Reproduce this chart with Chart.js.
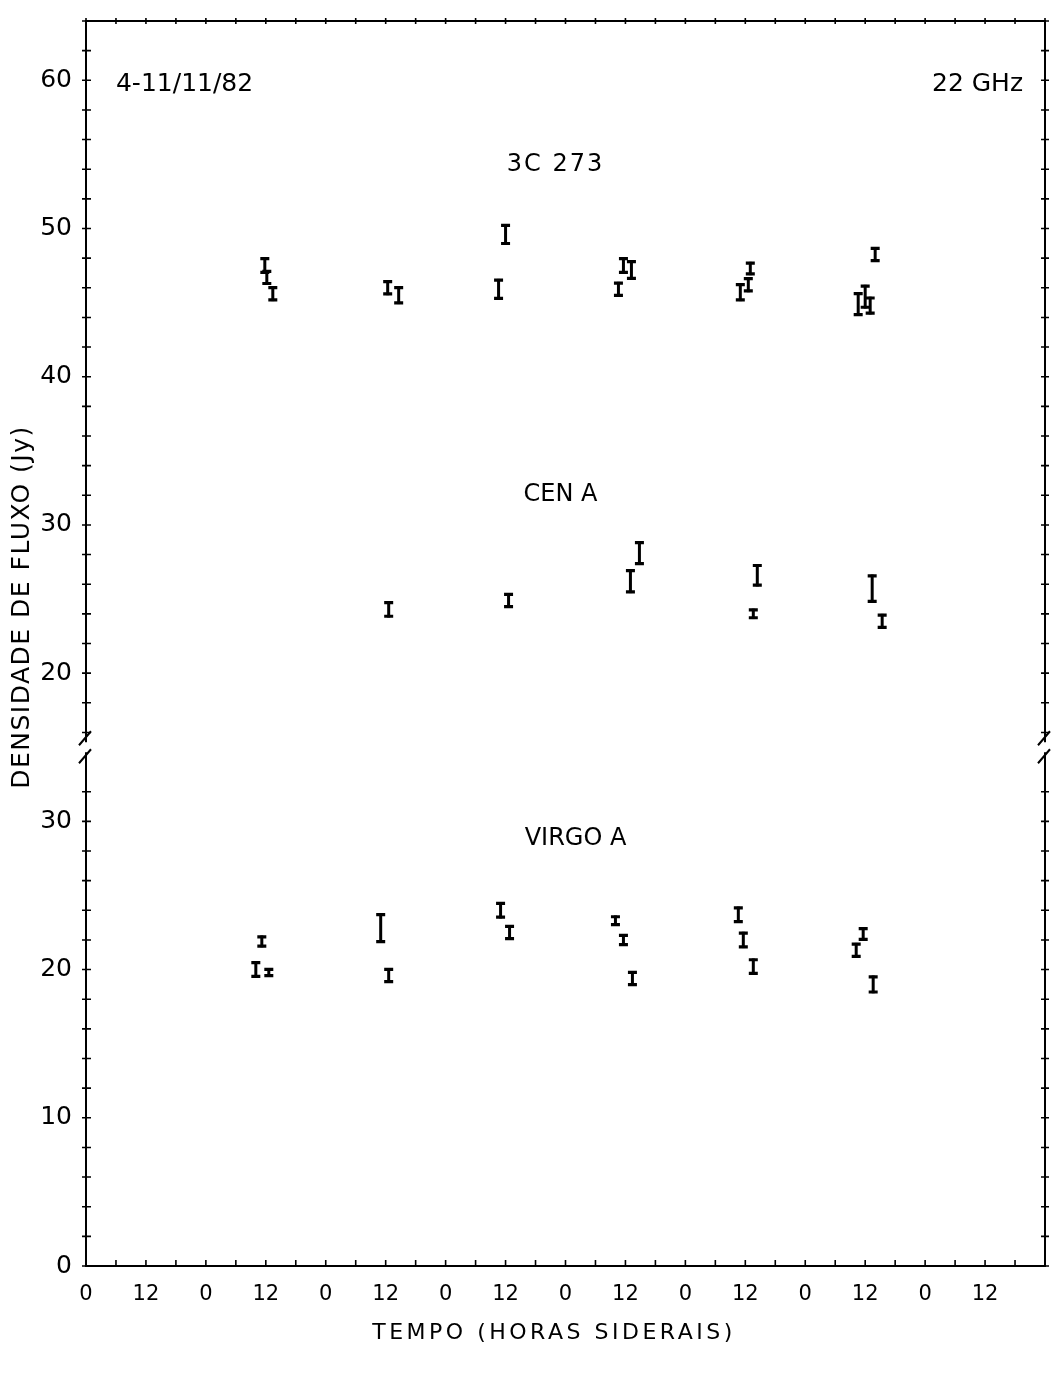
<!DOCTYPE html>
<html><head><meta charset="utf-8">
<script src="https://cdn.jsdelivr.net/npm/chart.js@4.4.1/dist/chart.umd.min.js"></script>
<style>html,body{margin:0;padding:0;background:#fff}canvas{display:block}</style>
</head><body>
<canvas id="c" width="1055" height="1373"></canvas>
<script>
// ---- tick labels ----
const xTickLabels = ['0','12','0','12','0','12','0','12','0','12','0','12','0','12','0','12'];
const lowerTickValues = [0, 10, 20, 30];
const lowerTickLabels = ['0', '10', '20', '30'];
const upperTickValues = [20, 30, 40, 50, 60];
const upperTickLabels = ['20', '30', '40', '50', '60'];
const UPPER_OFFSET = 20;   // broken axis: upper-panel value v sits at v + 20 on the shared axis
const BREAK_AT = 35;       // shared-axis value of the break marks

// ---- 3C 273 (upper panel, Jy) ----
const c273Hours = [35.8, 36.2, 37.4, 60.4, 62.6, 82.6, 84.0, 106.6, 107.6, 109.2, 131.0, 132.6, 133.0, 154.6, 156.0, 157.0, 158.0];
const c273Flux  = [47.5, 46.7, 45.6, 46.0, 45.5, 45.9, 49.6, 45.9, 47.5, 47.2, 45.7, 46.2, 47.3, 44.9, 45.4, 44.8, 48.25];
const c273Err   = [0.55, 0.5, 0.5, 0.5, 0.6, 0.7, 0.7, 0.5, 0.55, 0.65, 0.6, 0.5, 0.45, 0.8, 0.8, 0.6, 0.5];

// ---- CEN A (upper panel, Jy) ----
const cenHours = [60.6, 84.6, 109.0, 110.8, 133.6, 134.4, 157.4, 159.4];
const cenFlux  = [24.3, 24.9, 26.2, 28.1, 24.0, 26.6, 25.7, 23.5];
const cenErr   = [0.55, 0.5, 0.8, 0.8, 0.35, 0.75, 0.95, 0.5];

// ---- VIRGO A (lower panel, Jy) ----
const virHours = [34.0, 35.2, 36.6, 59.0, 60.6, 83.0, 84.8, 106.0, 107.6, 109.4, 130.6, 131.6, 133.6, 154.2, 155.6, 157.6];
const virFlux  = [20.0, 21.9, 19.8, 22.8, 19.6, 24.0, 22.5, 23.3, 22.0, 19.4, 23.7, 22.0, 20.2, 21.3, 22.4, 19.0];
const virErr   = [0.55, 0.4, 0.3, 1.0, 0.5, 0.55, 0.5, 0.35, 0.4, 0.5, 0.55, 0.55, 0.55, 0.5, 0.45, 0.6];

const FONT = '"DejaVu Sans", "Liberation Sans", sans-serif';

function build(hours, flux, err, offset) {
  return hours.map((h, i) => ({ x: h, y: flux[i] + offset, err: err[i] }));
}

function yLabel(v) {
  let i = lowerTickValues.indexOf(v);
  if (i >= 0) return lowerTickLabels[i];
  i = upperTickValues.indexOf(v - UPPER_OFFSET);
  if (i >= 0 && v > BREAK_AT) return upperTickLabels[i];
  return '';
}
function xTicks(scale) {
  const t = [];
  for (let v = 0; v <= 192; v += 6) t.push({ value: v });
  scale.ticks = t;
}
function yTicks(scale) {
  const t = [];
  for (let v = 0; v <= 84; v += 2) if (v !== 34) t.push({ value: v });
  scale.ticks = t;
}

const errorBars = {
  id: 'errorBars',
  afterDatasetsDraw(chart) {
    const ctx = chart.ctx, xs = chart.scales.x, ys = chart.scales.y;
    ctx.save();
    ctx.strokeStyle = '#000';
    ctx.lineCap = 'butt';
    chart.data.datasets.forEach(ds => {
      ds.data.forEach(p => {
        const px = xs.getPixelForValue(p.x);
        const t = ys.getPixelForValue(p.y + p.err);
        const b = ys.getPixelForValue(p.y - p.err);
        ctx.lineWidth = 3;
        ctx.beginPath(); ctx.moveTo(px, t); ctx.lineTo(px, b); ctx.stroke();
        ctx.lineWidth = 3.2;
        ctx.beginPath();
        ctx.moveTo(px - 4.5, t + 1.3); ctx.lineTo(px + 4.5, t + 1.3);
        ctx.moveTo(px - 4.5, b - 1.3); ctx.lineTo(px + 4.5, b - 1.3);
        ctx.stroke();
      });
    });
    ctx.restore();
  },
  afterDraw(chart) {
    const ctx = chart.ctx, ca = chart.chartArea;
    const xs = chart.scales.x, ys = chart.scales.y;
    ctx.save();
    ctx.strokeStyle = '#000';
    ctx.lineWidth = 1.6;
    // crossing tick marks on all four sides
    ctx.beginPath();
    xs.ticks.forEach(t => {
      const px = xs.getPixelForValue(t.value);
      ctx.moveTo(px, ca.bottom - 6); ctx.lineTo(px, ca.bottom + 1);
      ctx.moveTo(px, ca.top - 3); ctx.lineTo(px, ca.top + 3);
    });
    ys.ticks.forEach(t => {
      const py = ys.getPixelForValue(t.value);
      ctx.moveTo(ca.left - 4, py); ctx.lineTo(ca.left + 5, py);
      ctx.moveTo(ca.right - 4, py); ctx.lineTo(ca.right + 4, py);
    });
    ctx.stroke();

    // axis break marks
    const yb = ys.getPixelForValue(BREAK_AT);
    [ca.left, ca.right].forEach(ax => {
      ctx.fillStyle = '#fff';
      ctx.fillRect(ax - 3, yb - 5, 6, 10);
      ctx.lineWidth = 2;
      ctx.beginPath();
      ctx.moveTo(ax - 7, yb - 2); ctx.lineTo(ax + 5, yb - 16);
      ctx.moveTo(ax - 7, yb + 16); ctx.lineTo(ax + 5, yb + 2);
      ctx.stroke();
    });

    // annotations
    ctx.fillStyle = '#000';
    ctx.textBaseline = 'middle';
    ctx.font = '25px ' + FONT;
    ctx.textAlign = 'left';
    ctx.fillText('4-11/11/82', xs.getPixelForValue(6), ys.getPixelForValue(79.7));
    ctx.textAlign = 'right';
    ctx.fillText('22 GHz', xs.getPixelForValue(187.6), ys.getPixelForValue(79.7));
    ctx.textAlign = 'center';
    ctx.font = '24px ' + FONT;
    ctx.letterSpacing = '2px';
    ctx.fillText('3C 273', xs.getPixelForValue(94), ys.getPixelForValue(74.3));
    ctx.letterSpacing = '0px';
    ctx.fillText('CEN A', xs.getPixelForValue(95), ys.getPixelForValue(52.05));
    ctx.fillText('VIRGO A', xs.getPixelForValue(98), ys.getPixelForValue(28.8));

    // axis titles
    ctx.font = '22px ' + FONT;
    ctx.letterSpacing = '3.5px';
    ctx.fillText('TEMPO (HORAS SIDERAIS)', 554, 1333);
    ctx.save();
    ctx.translate(22, 607);
    ctx.rotate(-Math.PI / 2);
    ctx.font = '25px ' + FONT;
    ctx.letterSpacing = '1.5px';
    ctx.fillText('DENSIDADE DE FLUXO (Jy)', 0, 0);
    ctx.restore();
    ctx.restore();
  }
};

const axisBase = {
  type: 'linear',
  grid: { display: false },
  border: { display: true, color: '#000', width: 2 },
};

new Chart(document.getElementById('c'), {
  type: 'scatter',
  data: {
    datasets: [
      { label: '3C 273', data: build(c273Hours, c273Flux, c273Err, UPPER_OFFSET), pointRadius: 0 },
      { label: 'CEN A', data: build(cenHours, cenFlux, cenErr, UPPER_OFFSET), pointRadius: 0 },
      { label: 'VIRGO A', data: build(virHours, virFlux, virErr, 0), pointRadius: 0 }
    ]
  },
  options: {
    responsive: false,
    animation: false,
    events: [],
    layout: { padding: 0 },
    plugins: { legend: { display: false }, tooltip: { enabled: false } },
    scales: {
      x: Object.assign({}, axisBase, {
        position: 'bottom', min: 0, max: 192,
        afterBuildTicks: xTicks,
        afterFit: s => { s.height = 107; },
        ticks: {
          autoSkip: false, maxRotation: 0, padding: 8, color: '#000',
          font: { family: FONT, size: 21 },
          callback: v => (v % 12 === 0 && v < 192) ? xTickLabels[v / 12] : ''
        }
      }),
      x2: Object.assign({}, axisBase, {
        position: 'top', min: 0, max: 192,
        afterBuildTicks: xTicks,
        afterFit: s => { s.height = 12; },
        ticks: { display: false }
      }),
      y: Object.assign({}, axisBase, {
        position: 'left', min: 0, max: 84,
        afterBuildTicks: yTicks,
        afterFit: s => { s.width = 86; },
        ticks: {
          autoSkip: false, padding: 6, color: '#000',
          font: { family: FONT, size: 25 },
          callback: v => yLabel(v)
        }
      }),
      y2: Object.assign({}, axisBase, {
        position: 'right', min: 0, max: 84,
        afterBuildTicks: yTicks,
        afterFit: s => { s.width = 10; },
        ticks: { display: false }
      })
    }
  },
  plugins: [errorBars]
});
</script>
</body></html>
